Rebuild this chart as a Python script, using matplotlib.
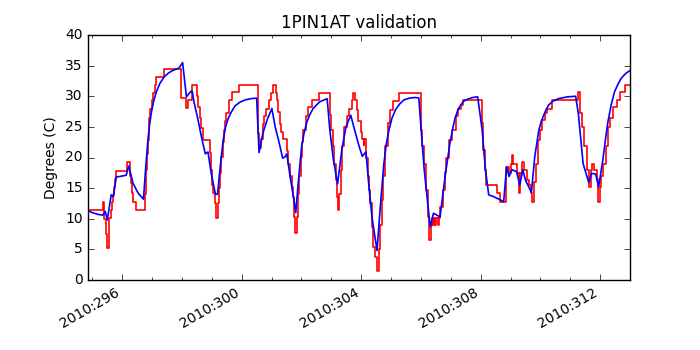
import matplotlib
matplotlib.use("Agg")
import matplotlib.pyplot as plt
import matplotlib.ticker as ticker

plt.style.use("classic")
plt.rcParams["font.size"] = 10

# telemetry (step data), day of year 2010
tlm_day = [294.86, 295.37, 295.40, 295.45, 295.50, 295.54, 295.57, 295.61, 295.65,
           295.69, 295.72, 295.76, 295.80, 296.17, 296.25, 296.28, 296.31, 296.35,
           296.45, 296.76, 296.79, 296.82, 296.85, 296.88, 296.91, 296.94, 296.98,
           297.03, 297.08, 297.14, 297.41, 297.98, 298.13, 298.20, 298.33, 298.50,
           298.55, 298.60, 298.65, 298.70, 298.93, 298.97, 299.00, 299.04, 299.10,
           299.15, 299.22, 299.25, 299.28, 299.32, 299.37, 299.41, 299.45, 299.49,
           299.57, 299.66, 299.91, 300.53, 300.56, 300.59, 300.64, 300.70, 300.75,
           300.82, 300.90, 300.98, 301.05, 301.14, 301.18, 301.22, 301.27, 301.31,
           301.37, 301.51, 301.55, 301.60, 301.68, 301.73, 301.76, 301.80, 301.85,
           301.88, 301.93, 301.99, 302.03, 302.06, 302.14, 302.23, 302.34, 302.60,
           302.95, 302.98, 303.05, 303.10, 303.16, 303.20, 303.23, 303.27, 303.31,
           303.35, 303.42, 303.52, 303.60, 303.68, 303.72, 303.79, 303.85, 303.90,
           303.98, 304.04, 304.08, 304.11, 304.17, 304.22, 304.25, 304.30, 304.36,
           304.41, 304.47, 304.52, 304.58, 304.63, 304.68, 304.73, 304.81, 304.90,
           304.97, 305.05, 305.27, 305.97, 306.01, 306.05, 306.09, 306.17, 306.23,
           306.28, 306.33, 306.37, 306.40, 306.44, 306.48, 306.52, 306.56, 306.60,
           306.64, 306.74, 306.79, 306.85, 306.95, 307.05, 307.17, 307.24, 307.33,
           307.41, 308.00, 308.03, 308.09, 308.14, 308.19, 308.55, 308.65, 308.85,
           308.95, 309.00, 309.05, 309.09, 309.20, 309.28, 309.33, 309.40, 309.45,
           309.55, 309.62, 309.68, 309.72, 309.78, 309.84, 309.91, 309.98, 310.05,
           310.15, 310.22, 310.40, 311.27, 311.31, 311.38, 311.46, 311.55, 311.62,
           311.68, 311.74, 311.80, 311.88, 311.93, 311.98, 312.04, 312.10, 312.19,
           312.26, 312.33, 312.43, 312.55, 312.68, 312.82, 313.00]
tlm_temp = [11.5, 12.8, 10.0, 7.5, 5.2, 7.5, 10.1, 11.4, 12.8,
            13.9, 15.2, 16.5, 17.8, 19.2, 17.0, 15.8, 14.2, 12.8,
            11.5, 14.0, 18.0, 20.5, 22.9, 24.5, 26.5, 28.0, 29.4,
            30.5, 31.8, 33.2, 34.4, 29.7, 28.1, 29.4, 31.9, 30.0,
            28.3, 26.5, 24.8, 22.9, 20.7, 18.0, 15.5, 14.2, 12.5,
            10.2, 12.5, 15.0, 17.5, 20.1, 22.5, 24.5, 26.0, 27.2,
            29.4, 30.7, 31.9, 27.0, 24.0, 21.6, 23.0, 25.5, 26.7,
            28.0, 29.4, 30.6, 31.9, 30.6, 29.4, 27.5, 25.5, 24.2,
            23.0, 21.0, 19.0, 17.0, 15.2, 13.6, 10.3, 7.7, 10.3,
            14.0, 17.0, 20.1, 22.5, 24.5, 26.7, 28.3, 29.4, 30.6,
            27.0, 24.5, 21.8, 19.0, 16.3, 13.5, 11.4, 14.0, 18.0,
            21.8, 25.0, 26.7, 28.0, 29.4, 30.6, 29.4, 27.8, 26.0,
            24.2, 23.0, 22.0, 23.0, 20.0, 17.0, 14.7, 12.5, 8.7,
            5.4, 3.8, 1.4, 5.0, 9.0, 13.0, 16.9, 21.8, 25.6,
            27.8, 29.3, 30.6, 30.6, 24.5, 21.8, 19.0, 14.7, 10.3,
            6.5, 9.0, 10.1, 9.0, 10.1, 9.0, 10.1, 9.0, 10.1,
            12.0, 14.7, 17.7, 20.0, 22.9, 24.5, 26.7, 28.0, 28.6,
            29.4, 29.4, 25.6, 21.2, 18.0, 15.5, 14.2, 12.8, 18.5,
            17.5, 19.0, 20.4, 19.0, 17.5, 14.2, 17.5, 19.2, 18.0,
            16.3, 15.5, 14.2, 12.8, 16.0, 19.0, 22.9, 24.5, 26.1,
            27.3, 28.0, 29.4, 30.7, 27.2, 25.0, 21.8, 18.0, 15.2,
            18.0, 19.0, 18.0, 16.5, 12.8, 15.2, 16.9, 19.0, 21.8,
            25.0, 26.5, 28.3, 29.4, 30.7, 31.9, 31.9]

# model prediction
pred_day = [294.86, 295.00, 295.20, 295.35, 295.43, 295.50, 295.57, 295.63, 295.70,
            295.80, 296.13, 296.22, 296.36, 296.53, 296.71, 296.78, 296.86, 296.92,
            296.97, 297.05, 297.14, 297.26, 297.41, 297.55, 297.69, 297.90, 298.02,
            298.15, 298.26, 298.34, 298.40, 298.54, 298.65, 298.78, 298.87, 298.98,
            299.12, 299.19, 299.27, 299.38, 299.46, 299.55, 299.65, 299.77, 299.93,
            300.11, 300.30, 300.50, 300.58, 300.71, 300.87, 301.01, 301.12, 301.23,
            301.37, 301.45, 301.51, 301.62, 301.73, 301.81, 301.90, 302.00, 302.08,
            302.17, 302.27, 302.39, 302.61, 302.86, 302.95, 303.07, 303.21, 303.35,
            303.49, 303.65, 303.78, 303.95, 304.04, 304.12, 304.16, 304.25, 304.36,
            304.53, 304.64, 304.76, 304.84, 304.93, 305.03, 305.15, 305.28, 305.43,
            305.62, 305.82, 305.93, 306.00, 306.11, 306.31, 306.42, 306.64, 306.81,
            306.97, 307.06, 307.14, 307.24, 307.35, 307.46, 307.60, 307.74, 307.90,
            308.05, 308.16, 308.27, 308.44, 308.77, 308.87, 308.95, 309.05, 309.20,
            309.31, 309.41, 309.50, 309.70, 309.81, 309.95, 310.03, 310.11, 310.20,
            310.28, 310.42, 310.60, 310.90, 311.18, 311.27, 311.43, 311.62, 311.71,
            311.85, 311.95, 312.09, 312.18, 312.26, 312.37, 312.48, 312.60, 312.70,
            312.85, 313.00]
pred_temp = [11.3, 11.0, 10.7, 10.6, 11.2, 9.8, 12.0, 13.9, 13.6,
             16.8, 17.1, 18.6, 15.8, 14.2, 13.2, 18.0, 22.9, 25.5,
             27.2, 29.2, 30.7, 32.1, 33.2, 33.8, 34.2, 34.6, 35.5,
             29.9, 30.6, 30.9, 29.1, 26.1, 23.4, 20.6, 20.9, 17.4,
             14.0, 14.0, 18.0, 22.9, 25.0, 26.4, 27.4, 28.4, 29.0,
             29.4, 29.6, 29.7, 20.8, 24.0, 26.4, 28.0, 25.0, 22.9,
             19.9, 20.1, 20.6, 16.9, 13.6, 11.0, 16.3, 21.5, 23.8,
             25.6, 26.9, 28.0, 29.1, 29.6, 24.5, 19.6, 15.7, 21.2,
             25.0, 26.9, 24.5, 21.5, 20.2, 20.7, 20.9, 15.8, 10.3,
             4.8, 12.0, 19.0, 22.2, 24.5, 26.4, 27.8, 28.7, 29.4,
             29.7, 29.8, 29.7, 25.0, 18.0, 8.7, 10.9, 10.3, 16.9,
             22.3, 24.6, 26.4, 27.8, 28.7, 29.3, 29.6, 29.8, 29.9,
             24.5, 18.0, 13.9, 13.6, 12.8, 18.5, 16.9, 18.0, 17.7,
             15.5, 18.0, 16.3, 14.3, 20.1, 24.5, 25.9, 26.9, 27.9,
             28.6, 29.2, 29.6, 29.9, 30.0, 27.2, 19.0, 15.9, 17.4,
             17.3, 15.2, 19.6, 23.0, 25.8, 28.6, 30.7, 32.0, 32.9,
             33.7, 34.2]

fig = plt.figure(figsize=(7, 3.5), dpi=100)
ax = fig.add_subplot(111)
ax.plot(tlm_day, tlm_temp, color="r", lw=1.2, drawstyle="steps-post")
ax.plot(pred_day, pred_temp, color="b", lw=1.2)

ax.set_xlim(294.86, 313.0)
ax.set_ylim(0, 40)
ax.xaxis.set_major_locator(ticker.MultipleLocator(4))
ax.xaxis.set_minor_locator(ticker.MultipleLocator(1))
ax.xaxis.set_major_formatter(ticker.FuncFormatter(lambda v, p: "2010:%d" % round(v)))
ax.set_title("1PIN1AT validation")
ax.set_ylabel("Degrees (C)")
fig.autofmt_xdate()
fig.subplots_adjust(left=0.126, right=0.9, top=0.9, bottom=0.2)

fig.savefig("out.png")
